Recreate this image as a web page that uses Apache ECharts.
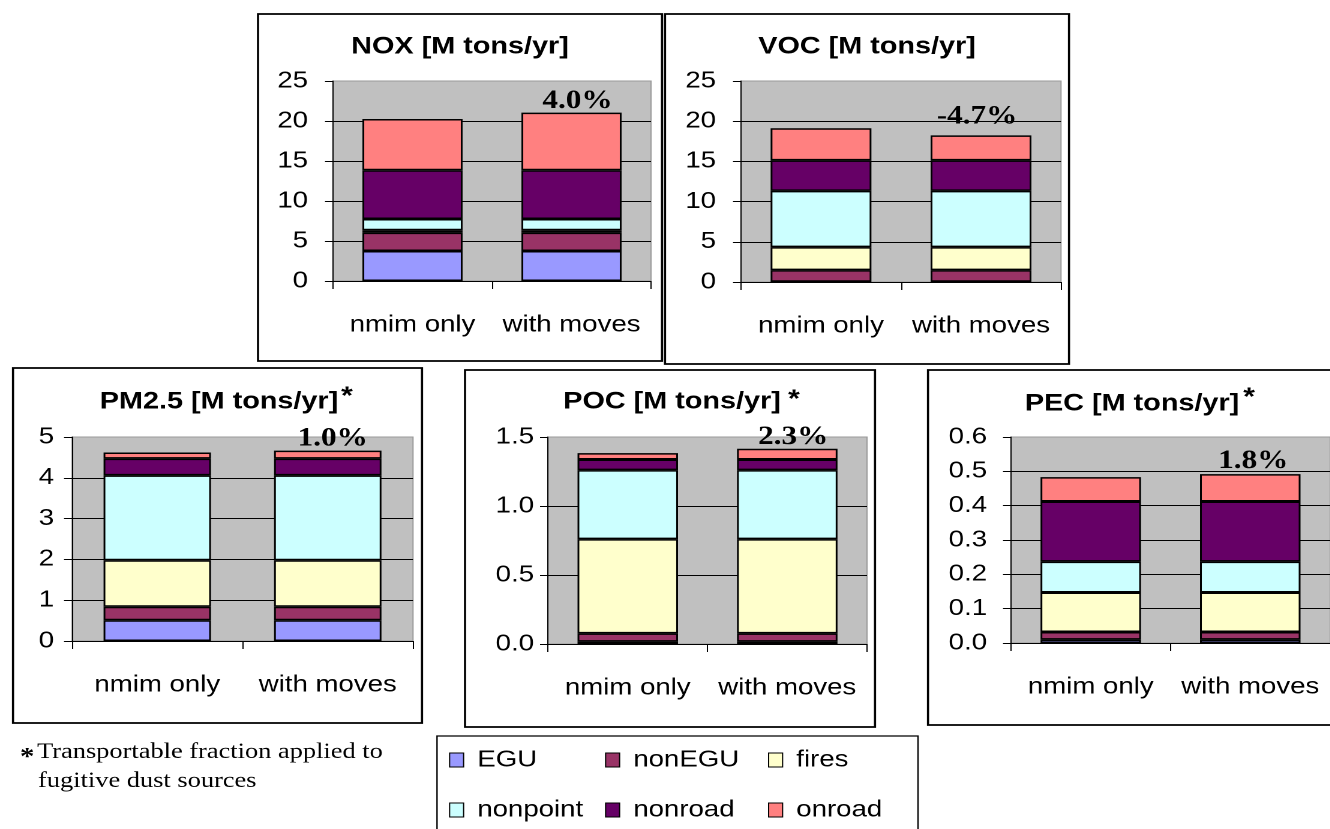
<!DOCTYPE html>
<html>
<head>
<meta charset="utf-8">
<script src="https://cdn.jsdelivr.net/npm/echarts@6/dist/echarts.min.js"></script>
<style>
html, body { margin: 0; padding: 0; background: #fff; overflow: hidden; width: 1330px; height: 829px; }
#chart { position: absolute; left: 0; top: 0; height: 829px; transform-origin: 0 0; }
</style>
</head>
<body>
<div id="chart"></div>
<script>
// ---------------- data ----------------
const categories = ['nmim only', 'with moves'];
const sources = ['EGU', 'nonEGU', 'fires', 'nonpoint', 'nonroad', 'onroad'];
const sourceColors = ['#9999FF', '#993366', '#FFFFCC', '#CCFFFF', '#660066', '#FF8080'];

// values per source, order as in `sources`
const noxNmim  = [3.75, 2.30, 0.30, 1.40, 6.10, 6.40];
const noxMoves = [3.75, 2.30, 0.30, 1.40, 6.10, 7.20];
const vocNmim  = [0.03, 1.45, 2.85, 7.00, 3.80, 4.00];
const vocMoves = [0.03, 1.45, 2.85, 7.00, 3.80, 3.10];
const pm25Nmim  = [0.51, 0.33, 1.14, 2.08, 0.41, 0.150];
const pm25Moves = [0.51, 0.33, 1.14, 2.08, 0.41, 0.195];
const pocNmim  = [0.017, 0.060, 0.683, 0.500, 0.077, 0.046];
const pocMoves = [0.017, 0.060, 0.683, 0.500, 0.077, 0.078];
const pecNmim  = [0.010, 0.022, 0.115, 0.090, 0.175, 0.071];
const pecMoves = [0.010, 0.022, 0.115, 0.090, 0.175, 0.080];

const chartTitles = ['NOX [M tons/yr]', 'VOC [M tons/yr]', 'PM2.5 [M tons/yr]', 'POC [M tons/yr]', 'PEC [M tons/yr]'];
const titleStars = [false, false, true, true, true];
const pctLabels = ['4.0%', '-4.7%', '1.0%', '2.3%', '1.8%'];
const yMax = [25, 25, 5, 1.5, 0.6];
const yStep = [5, 5, 1, 0.5, 0.1];
const yDecimals = [0, 0, 0, 1, 1];
const footnoteLines = ['Transportable fraction applied to', 'fugitive dust sources'];

const nmimData = [noxNmim, vocNmim, pm25Nmim, pocNmim, pecNmim];
const movesData = [noxMoves, vocMoves, pm25Moves, pocMoves, pecMoves];

// ---------------- layout (reference pixel coords) ----------------
const S = 1.2; // horizontal stretch of the original picture
const fx = x => x / S;
const FONT = "'Liberation Sans', Arial, Helvetica, sans-serif";
const SERIF = "'Liberation Serif', 'Times New Roman', Times, serif";

const panels = [
  { plot: [333, 81, 651, 281],  box: [258, 14, 662, 361],  title: [460, 47],  star: null,       ylm: 25, pd: -1.5, pdx: 6 },
  { plot: [741, 81, 1061, 282], box: [665, 14, 1069, 364], title: [867, 47],  star: null,       ylm: 25, pd: 5.5,  pdx: -4 },
  { plot: [72, 437, 413, 641],  box: [13, 368, 422, 723],  title: [219, 402], star: [347, 392], ylm: 18, pd: -1,   pdx: 5 },
  { plot: [548, 437, 867, 644], box: [465, 370, 875, 727], title: [672, 402], star: [794, 395], ylm: 14, pd: -1.5, pdx: 6 },
  { plot: [1011, 437, 1330, 643], box: [928, 370, 1345, 725], title: [1132, 404], star: [1249, 393], ylm: 24, pd: 0, pdx: 3 }
];
const legendPos = [[449, 760], [605, 760], [768, 760], [449, 810], [605, 810], [768, 810]];

const dom = document.getElementById('chart');
dom.style.width = (1330 / S) + 'px';
dom.style.transform = 'scaleX(' + S + ')';

const grids = [], xAxes = [], yAxes = [], series = [], graphics = [];

panels.forEach((p, i) => {
  grids.push({
    left: fx(p.plot[0]), top: p.plot[1],
    width: fx(p.plot[2] - p.plot[0]), height: p.plot[3] - p.plot[1],
    show: true, backgroundColor: '#C0C0C0', borderColor: '#9a9a9a', borderWidth: 1,
    containLabel: false, outerBoundsMode: 'none'
  });
  xAxes.push({
    type: 'category', gridIndex: i, data: categories,
    axisLine: { show: true, lineStyle: { color: '#000', width: 1 } },
    axisTick: { show: true, length: 8, lineStyle: { color: '#000', width: 1 } },
    axisLabel: { interval: 0, fontSize: 23, fontFamily: FONT, color: '#000', margin: 44, verticalAlign: 'middle' },
    splitLine: { show: false }
  });
  yAxes.push({
    type: 'value', gridIndex: i, min: 0, max: yMax[i], interval: yStep[i],
    axisLine: { show: true, lineStyle: { color: '#000', width: 1 } },
    axisTick: { show: true, length: fx(8), lineStyle: { color: '#000', width: 1 } },
    axisLabel: { fontSize: 23, fontFamily: FONT, color: '#000', margin: fx(p.ylm),
      formatter: v => v.toFixed(yDecimals[i]) },
    splitLine: { show: true, showMaxLine: false, lineStyle: { color: '#000', width: 1 } }
  });
  const nm = nmimData[i], mv = movesData[i];
  sources.forEach((src, k) => {
    const isTop = k === sources.length - 1;
    series.push({
      type: 'bar', name: src, stack: 'st' + i, xAxisIndex: i, yAxisIndex: i,
      barWidth: '63%',
      itemStyle: { color: sourceColors[k], borderColor: '#000', borderWidth: 1.5 },
      emphasis: { disabled: true },
      data: [nm[k], isTop ? {
        value: mv[k],
        label: { show: true, position: 'top', distance: p.pd, offset: [fx(p.pdx), 0],
          formatter: pctLabels[i], fontFamily: SERIF, fontWeight: 'bold', fontSize: 26, color: '#000' }
      } : mv[k]]
    });
  });
  // panel frame
  graphics.push({
    type: 'rect', silent: true, z: 100,
    shape: { x: fx(p.box[0]), y: p.box[1], width: fx(p.box[2] - p.box[0]), height: p.box[3] - p.box[1] },
    style: { fill: 'none', stroke: '#000', lineWidth: 1.8 }
  });
  // title
  graphics.push({
    type: 'text', silent: true, x: fx(p.title[0]), y: p.title[1],
    style: { text: chartTitles[i], fill: '#000', fontSize: 24, fontWeight: 'bold', fontFamily: FONT,
      textAlign: 'center', textVerticalAlign: 'middle' }
  });
  if (titleStars[i]) {
    graphics.push({
      type: 'text', silent: true, x: fx(p.star[0]), y: p.star[1] + 5,
      style: { text: '*', fill: '#000', fontSize: 25, fontWeight: 'bold', fontFamily: FONT,
        textAlign: 'center', textVerticalAlign: 'middle' }
    });
  }
});

// legend frame
graphics.push({
  type: 'rect', silent: true,
  shape: { x: fx(437), y: 736, width: fx(918 - 437), height: 120 },
  style: { fill: 'none', stroke: '#000', lineWidth: 1.2 }
});
// footnote
graphics.push({
  type: 'text', silent: true, x: fx(20), y: 758,
  style: { text: '*', fill: '#000', fontSize: 24, fontWeight: 'bold', fontFamily: SERIF, textAlign: 'left', textVerticalAlign: 'middle' }
});
graphics.push({
  type: 'text', silent: true, x: fx(37), y: 752,
  style: { text: footnoteLines[0], fill: '#000', fontSize: 22, fontFamily: SERIF, textAlign: 'left', textVerticalAlign: 'middle' }
});
graphics.push({
  type: 'text', silent: true, x: fx(38), y: 781,
  style: { text: footnoteLines[1], fill: '#000', fontSize: 22, fontFamily: SERIF, textAlign: 'left', textVerticalAlign: 'middle' }
});

const legends = sources.map((src, k) => ({
  data: [src], selectedMode: false, orient: 'horizontal',
  left: fx(legendPos[k][0]), top: legendPos[k][1] - 11.5,
  padding: 0, itemGap: 0, icon: 'rect',
  itemWidth: fx(14), itemHeight: 14,
  itemStyle: { borderColor: '#000', borderWidth: 1 },
  formatter: n => ' ' + n,
  textStyle: { fontSize: 23, lineHeight: 23, fontFamily: FONT, color: '#000' }
}));

const chart = echarts.init(dom, null, { renderer: 'canvas', devicePixelRatio: 2 });
chart.setOption({
  animation: false,
  backgroundColor: '#fff',
  grid: grids,
  xAxis: xAxes,
  yAxis: yAxes,
  legend: legends,
  series: series,
  graphic: graphics
});
</script>
</body>
</html>
